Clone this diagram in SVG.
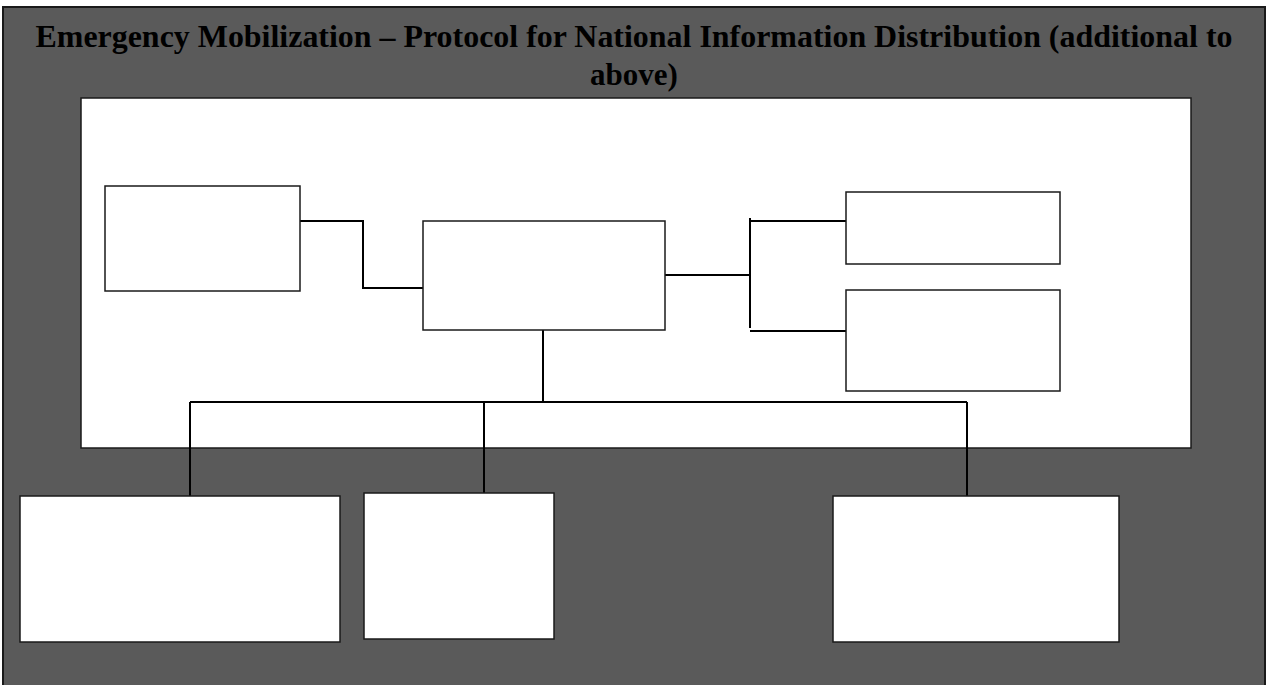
<svg xmlns="http://www.w3.org/2000/svg" width="1267" height="685" viewBox="0 0 1267 685">
  <style>
    .frame { fill: #5a5a5a; stroke: #1a1a1a; stroke-width: 2; }
    .panel { fill: #ffffff; stroke: #1a1a1a; stroke-width: 1.5; }
    .box { fill: #ffffff; stroke: #1a1a1a; stroke-width: 1.5; }
    .wire { fill: none; stroke: #000000; stroke-width: 2; }
    .title { font-family: "Liberation Serif", "Times New Roman", serif; font-weight: bold; font-size: 31px; fill: #000000; text-anchor: middle; }
  </style>

  <!-- background frame -->
  <rect class="frame" x="3" y="7" width="1262" height="690"/>

  <!-- heading -->
  <text class="title" x="634" y="47" textLength="1197" lengthAdjust="spacingAndGlyphs">Emergency Mobilization – Protocol for National Information Distribution (additional to</text>
  <text class="title" x="634" y="85">above)</text>

  <!-- white working panel -->
  <rect class="panel" x="81" y="98" width="1110" height="350"/>

  <!-- connectors -->
  <g id="connectors">
    <path class="wire" d="M300 221 H363 V288 H423"/>
    <path class="wire" d="M665 275 H750"/>
    <path class="wire" d="M750 218 V328"/>
    <path class="wire" d="M750 221 H846"/>
    <path class="wire" d="M750 331 H846"/>
    <path class="wire" d="M543 330 V402"/>
    <path class="wire" d="M190 402 H967"/>
    <path class="wire" d="M190 402 V496"/>
    <path class="wire" d="M484 402 V493"/>
    <path class="wire" d="M967 402 V496"/>
  </g>

  <!-- nodes -->
  <g id="node-source"><rect class="box" x="105" y="186" width="195" height="105"/></g>
  <g id="node-hub"><rect class="box" x="423" y="221" width="242" height="109"/></g>
  <g id="node-right-top"><rect class="box" x="846" y="192" width="214" height="72"/></g>
  <g id="node-right-bottom"><rect class="box" x="846" y="290" width="214" height="101"/></g>
  <g id="node-bottom-left"><rect class="box" x="20" y="496" width="320" height="146"/></g>
  <g id="node-bottom-mid"><rect class="box" x="364" y="493" width="190" height="146"/></g>
  <g id="node-bottom-right"><rect class="box" x="833" y="496" width="286" height="146"/></g>
</svg>
